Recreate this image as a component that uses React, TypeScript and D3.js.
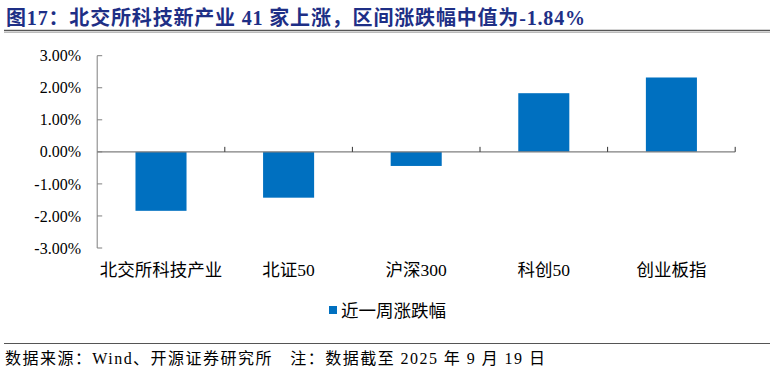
import React from "react";
import * as d3 from "d3";

const categories = ["北交所科技产业", "北证50", "沪深300", "科创50", "创业板指"];
const values = [-1.84, -1.43, -0.44, 1.83, 2.32];
const yTicks = [3, 2, 1, 0, -1, -2, -3];
const seriesName = "近一周涨跌幅";
const titleText = "图17：北交所科技新产业 41 家上涨，区间涨跌幅中值为-1.84%";
const sourceText = "数据来源：Wind、开源证券研究所　注：数据截至 2025 年 9 月 19 日";

const W = 774;
const H = 374;
const FONT = "'Liberation Serif', 'Times New Roman', 'Noto Sans CJK SC', serif";

export default function App() {
  const x = d3
    .scaleBand<string>()
    .domain(categories)
    .range([97.2, 735.2])
    .paddingInner(0.6)
    .paddingOuter(0.3);
  const y = d3.scaleLinear().domain([-3, 3]).range([248, 55.7]);
  const step = x.step();
  const x0 = x.range()[0];
  const y0 = y(0);
  const axisColor = "#7f7f7f";

  return (
    <svg
      width={W}
      height={H}
      style={{ position: "absolute", left: 0, top: 0, background: "#fff" }}
      fontFamily={FONT}
    >
      <text
        x={6}
        y={25}
        fontSize={20}
        fontWeight="bold"
        fill="#1E2F86"
        textLength={579}
        lengthAdjust="spacing"
      >
        {titleText}
      </text>
      <line x1={4} x2={770} y1={30.5} y2={30.5} stroke="#555" strokeWidth={1.5} />
      <line x1={4} x2={770} y1={32.5} y2={32.5} stroke="#aaa" strokeWidth={0.8} />

      {/* bars */}
      {categories.map((c, i) => {
        const v = values[i];
        const top = Math.min(y(v), y0);
        const h = Math.abs(y(v) - y0);
        return (
          <rect key={c} x={x(c)} y={top} width={x.bandwidth()} height={h} fill="#0070C0" />
        );
      })}

      {/* y axis */}
      <line x1={x0} x2={x0} y1={y(3)} y2={y(-3)} stroke={axisColor} strokeWidth={1} />
      {yTicks.map((t) => (
        <g key={t}>
          <line x1={x0} x2={x0 + 5} y1={y(t)} y2={y(t)} stroke={axisColor} strokeWidth={1} />
          <text
            x={81}
            y={y(t)}
            dy="0.35em"
            textAnchor="end"
            fontSize={16}
            fill="#000"
          >
            {t.toFixed(2) + "%"}
          </text>
        </g>
      ))}

      {/* zero / category axis */}
      <line x1={x0} x2={x0 + step * categories.length} y1={y0} y2={y0} stroke={axisColor} strokeWidth={1.2} />
      {categories.map((c, i) => (
        <line
          key={"t" + c}
          x1={x0 + step * (i + 1)}
          x2={x0 + step * (i + 1)}
          y1={y0}
          y2={y0 - 5}
          stroke="#333"
          strokeWidth={1}
        />
      ))}
      {categories.map((c) => (
        <text
          key={"l" + c}
          x={(x(c) as number) + x.bandwidth() / 2}
          y={270}
          dy="0.35em"
          textAnchor="middle"
          fontSize={17.5}
          fill="#000"
        >
          {c}
        </text>
      ))}

      {/* legend */}
      <rect x={329} y={306} width={8} height={8} fill="#0070C0" />
      <text x={341} y={311} dy="0.35em" fontSize={17.5} fill="#000">
        {seriesName}
      </text>

      {/* footer */}
      <line x1={4} x2={770} y1={343.5} y2={343.5} stroke="#555" strokeWidth={1.2} />
      <text
        x={5}
        y={358}
        dy="0.35em"
        fontSize={16}
        fill="#000"
        textLength={540}
        lengthAdjust="spacing"
      >
        {sourceText}
      </text>
    </svg>
  );
}
